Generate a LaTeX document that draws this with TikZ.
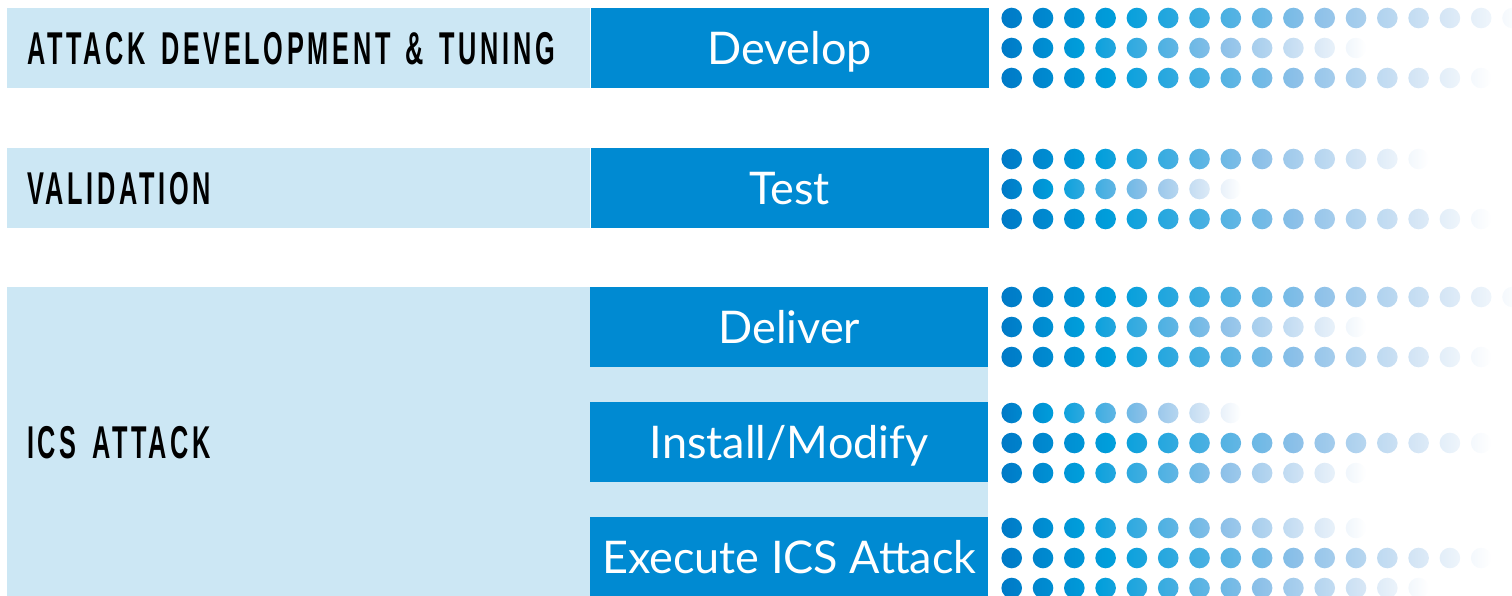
\documentclass[tikz,border=0pt]{standalone}
\usepackage{fontspec}
\newfontfamily\stagefont{Lato}
\newfontfamily\phasefont[FakeStretch=0.55,LetterSpace=8,WordSpace=1.8]{Liberation Sans Bold}
\definecolor{phasebg}{RGB}{204,231,244}
\definecolor{stagebg}{RGB}{0,138,210}
\definecolor{dotdark}{RGB}{0,122,199}
\definecolor{dotcyan}{RGB}{0,158,219}
\definecolor{dotmid}{RGB}{140,192,232}
\definecolor{dotpale}{RGB}{212,229,245}
\pgfdeclarehorizontalshading{dotfade}{100bp}{color(0bp)=(dotdark); color(25bp)=(dotdark);
	color(36bp)=(dotcyan); color(55bp)=(dotmid); color(67bp)=(dotpale);
	color(75bp)=(white); color(100bp)=(white)}
\newcommand{\dotrow}[2]{
	\shade[shading=dotfade]
	\foreach \i in {1,...,#2} {
		({1011.7+31.3*(\i-1)},#1) circle[radius=10.3]
	};
}
\tikzset{
	phase/.style={fill=phasebg, anchor=north west, inner xsep=20pt, inner ysep=0pt,
		align=left, text depth=0pt, font=\phasefont\fontsize{46}{50}\selectfont},
	stage/.style={fill=stagebg, text=white, anchor=north west, minimum width=398pt,
		minimum height=80pt, inner sep=0pt, text height=33pt, text depth=0pt,
		font=\stagefont\fontsize{45}{54}\selectfont},
}

\begin{document}
\begin{tikzpicture}[x=1pt,y=-1pt]
			\useasboundingbox (0,0) rectangle (1512,595);
			\clip (0,0) rectangle (1512,595);
			
			\node[phase, text width=543pt, minimum height=80pt] (tuning) at (7,8) {ATTACK DEVELOPMENT \& TUNING};
			\node[phase, text width=543pt, minimum height=80pt] (validation) at (7,148) {VALIDATION};
			\node[phase, text width=941pt, minimum height=310pt] (icsattack) at (7,287) {ICS ATTACK};
			
			\node[stage] (develop) at (tuning.north east) {Develop};
			\node[stage] (test) at (validation.north east) {Test};
			\node[stage] (deliver) at (590,287) {Deliver};
			\node[stage] (install) at (590,402) {Install/Modify};
			\node[stage] (execute) at (590,517) {Execute ICS Attack};
			
			\dotrow{18}{17}
			\dotrow{48}{12}
			\dotrow{78}{16}
			
			\dotrow{159}{14}
			\dotrow{189}{8}
			\dotrow{219}{16}
			
			\dotrow{297}{17}
			\dotrow{327}{12}
			\dotrow{357}{16}
			
			\dotrow{413}{8}
			\dotrow{443}{16}
			\dotrow{473}{12}
			
			\dotrow{528}{12}
			\dotrow{558}{16}
			\dotrow{588}{14}
		\end{tikzpicture}
\end{document}
